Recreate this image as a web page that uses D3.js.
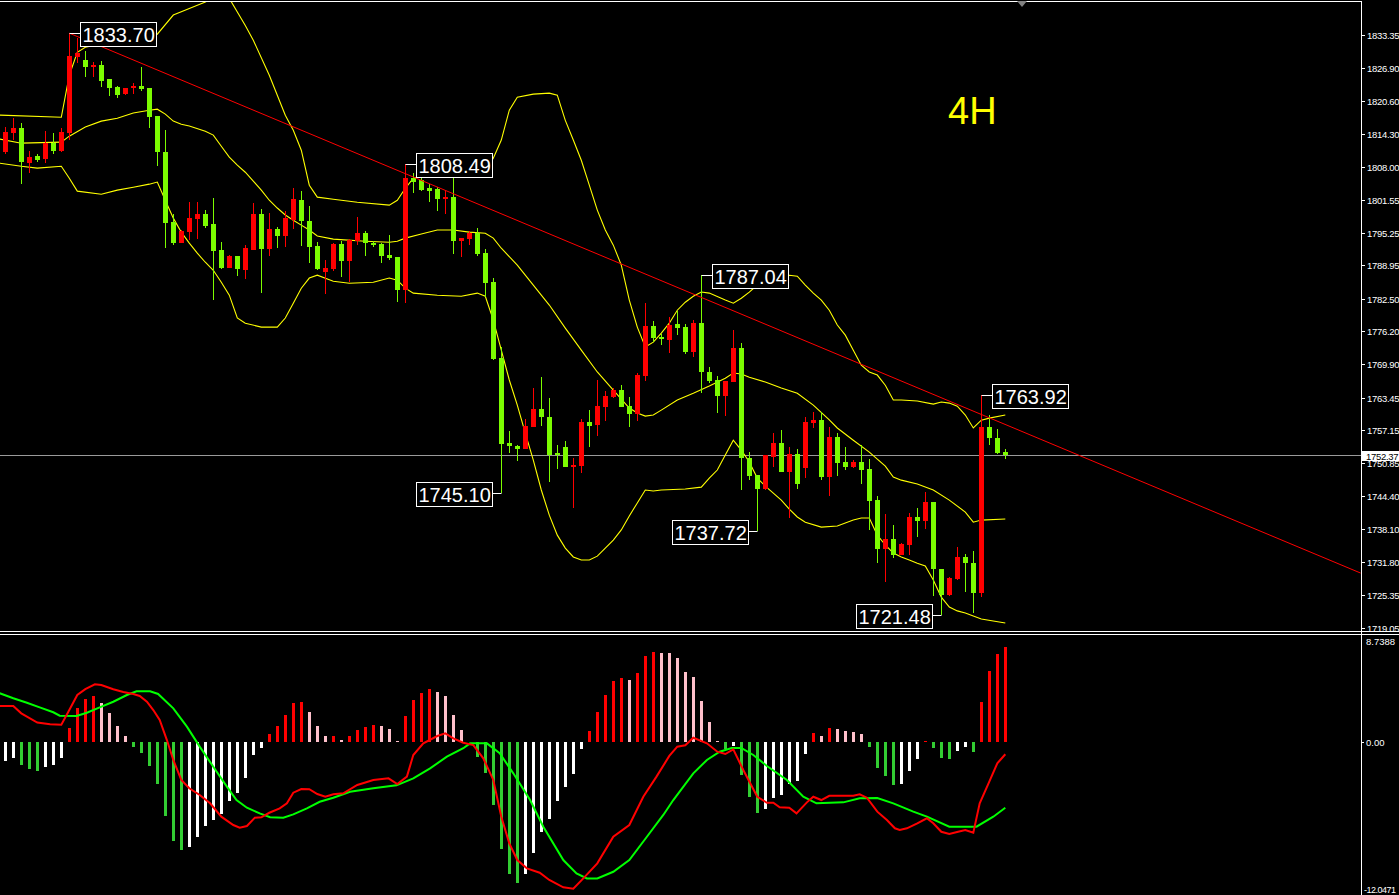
<!DOCTYPE html>
<html>
<head>
<meta charset="utf-8">
<script src="https://cdn.jsdelivr.net/npm/d3@7/dist/d3.min.js"></script>
<style>
  html, body { margin: 0; padding: 0; background: #000; overflow: hidden; }
  svg { display: block; }
</style>
</head>
<body>
<svg id="chart" width="1399" height="895"></svg>
<script>
// ---- Price data (4H candles, oldest first) ----
const openP = [1810.8,1814.5,1815.5,1808.7,1810.0,1809.4,1812.6,1811.0,1814.4,1829.1,
  1828.5,1827.2,1827.5,1824.8,1823.4,1821.9,1823.2,1823.5,1823.2,1817.7,
  1810.8,1797.3,1793.3,1795.4,1797.9,1798.8,1796.9,1791.9,1788.5,1790.7,
  1788.1,1792.0,1798.8,1792.1,1795.9,1794.6,1797.7,1801.5,1797.5,1792.7,
  1787.7,1788.2,1793.0,1789.8,1793.6,1795.2,1793.2,1793.0,1790.9,1790.6,
  1784.2,1805.8,1805.4,1803.8,1803.6,1801.7,1802.2,1793.7,1794.0,1795.1,
  1791.4,1785.8,1771.1,1754.8,1754.2,1753.5,1757.7,1761.3,1759.8,1752.7,
  1753.9,1750.1,1750.3,1758.8,1758.2,1761.7,1763.6,1764.9,1761.8,1760.3,
  1767.7,1777.2,1775.2,1774.5,1777.6,1777.1,1772.2,1777.9,1768.4,1766.8,
  1763.8,1766.5,1773.1,1751.8,1748.5,1745.8,1752.1,1754.8,1749.2,1752.6,
  1749.9,1758.5,1759.1,1748.1,1755.8,1751.1,1750.1,1751.1,1749.7,1743.7,
  1734.2,1736.3,1733.1,1735.0,1740.5,1739.7,1743.3,1730.4,1725.4,1728.5,
  1732.7,1731.5,1725.7,1757.7,1755.6,1753.0];
const highP = [1815.6,1817.3,1816.3,1811.0,1810.4,1814.8,1814.4,1815.5,1833.70,1832.7,
  1830.3,1828.2,1828.3,1824.8,1823.5,1823.2,1824.1,1827.1,1823.2,1817.7,
  1815.0,1798.8,1795.7,1801.1,1801.2,1799.7,1802.0,1793.4,1790.9,1790.7,
  1792.9,1801.0,1799.9,1799.1,1796.4,1799.5,1803.8,1803.3,1800.4,1793.5,
  1790.0,1793.2,1793.7,1794.1,1798.2,1795.6,1793.7,1793.3,1794.8,1790.6,
  1808.49,1806.7,1805.7,1804.6,1804.0,1803.3,1807.3,1794.3,1795.6,1796.1,
  1792.1,1786.6,1773.3,1757.0,1754.4,1759.3,1765.4,1767.5,1763.4,1754.3,
  1755.1,1751.9,1759.3,1761.1,1766.8,1764.7,1765.4,1765.9,1763.6,1768.2,
  1781.7,1778.3,1775.8,1779.0,1780.1,1777.6,1778.4,1787.04,1769.4,1767.6,
  1766.7,1776.5,1773.9,1753.0,1748.5,1752.4,1756.6,1757.3,1753.9,1753.5,
  1759.8,1760.6,1760.7,1757.8,1756.7,1754.0,1751.4,1754.3,1751.6,1744.5,
  1741.0,1738.9,1735.4,1741.3,1742.1,1745.3,1743.3,1730.4,1728.8,1734.7,
  1733.4,1733.9,1763.92,1760.1,1757.5,1753.5];
const lowP = [1810.5,1813.1,1804.7,1806.8,1808.9,1808.6,1810.4,1810.8,1813.1,1828.0,
  1825.2,1825.3,1823.4,1821.6,1821.2,1821.8,1821.9,1822.6,1815.5,1808.1,
  1792.2,1792.9,1793.2,1793.9,1794.1,1796.1,1782.3,1788.2,1788.4,1786.9,
  1786.4,1792.0,1783.7,1790.7,1792.3,1792.5,1795.9,1792.7,1789.4,1788.0,
  1783.4,1787.9,1786.7,1785.8,1792.9,1790.7,1792.4,1789.4,1790.0,1781.9,
  1781.7,1802.8,1803.3,1801.2,1799.4,1798.8,1791.1,1790.5,1792.9,1790.7,
  1782.9,1770.7,1745.10,1752.8,1751.2,1753.5,1757.7,1758.0,1747.1,1749.7,
  1750.1,1742.1,1749.0,1753.9,1756.1,1759.0,1763.4,1761.6,1757.7,1759.0,
  1766.6,1774.2,1773.6,1772.1,1775.5,1771.8,1771.3,1764.4,1766.2,1760.5,
  1760.0,1766.5,1745.6,1747.6,1737.72,1745.6,1750.1,1749.1,1740.2,1745.8,
  1747.9,1757.6,1747.6,1744.5,1748.3,1749.6,1749.9,1746.9,1737.9,1731.5,
  1727.9,1732.5,1733.1,1733.1,1736.5,1738.1,1725.3,1721.48,1725.3,1728.3,
  1725.9,1722.0,1725.0,1754.3,1752.6,1751.6];
const closeP = [1814.7,1815.5,1808.9,1809.9,1809.2,1812.6,1811.0,1814.7,1829.3,1829.9,
  1827.2,1827.5,1824.5,1823.2,1821.8,1823.2,1823.5,1822.9,1817.6,1810.8,
  1797.1,1793.3,1795.5,1798.0,1798.8,1796.5,1791.8,1788.4,1790.7,1788.2,
  1792.3,1798.8,1792.1,1795.9,1794.6,1798.0,1801.7,1797.5,1792.5,1788.2,
  1788.5,1793.0,1789.8,1793.8,1795.2,1793.2,1792.9,1790.7,1790.3,1784.2,
  1805.8,1805.0,1803.4,1803.3,1801.7,1802.2,1793.6,1794.3,1795.1,1791.1,
  1785.6,1770.9,1754.6,1754.2,1753.5,1758.0,1761.3,1759.8,1752.4,1752.4,
  1750.1,1750.5,1758.8,1758.0,1761.8,1763.8,1764.9,1761.7,1760.3,1767.8,
  1777.2,1775.0,1774.7,1777.4,1776.9,1772.2,1777.9,1768.4,1766.6,1763.8,
  1766.7,1773.1,1751.8,1748.3,1745.8,1752.3,1754.8,1749.2,1752.6,1746.9,
  1758.8,1759.1,1748.1,1755.8,1750.9,1750.1,1751.1,1749.5,1743.6,1734.2,
  1736.3,1733.1,1735.2,1740.5,1739.7,1743.4,1730.4,1725.4,1728.6,1732.7,
  1731.5,1725.7,1757.7,1755.6,1752.8,1752.37];

// ---- Bollinger bands, [candle index, price] vertices ----
const bbUpper = [[-0.7,1817.9],[7,1817.5],[8,1825.6],[9,1830.0],[10,1831.0],[12,1831.6],[15,1832.35],[18,1832.9],
  [19,1833.5],[21,1837.2],[25,1839.7],[27,1841.6],[28,1840.4],[30,1835.2],[31,1832.35],[33,1825.6],[35,1817.9],
  [36,1815.0],[37,1811.15],[38,1804.4],[39,1802.1],[41,1801.7],[44,1801.1],[48,1800.55],[49,1801.5],[50,1803.8],
  [51,1805.75],[52,1806.15],[60,1807.3],[61,1809.6],[62,1813.1],[63,1818.85],[64,1821.35],[66,1821.95],[68,1822.15],
  [69,1821.75],[70,1816.9],[71,1813.1],[72,1809.2],[73,1804.4],[74,1799.6],[75,1795.75],[76,1792.85],[77,1789.0],
  [78,1782.25],[79,1777.05],[80,1773.2],[81,1774.15],[82,1775.9],[83,1777.8],[84,1780.3],[85,1781.85],[86,1783.0],
  [87,1783.8],[88,1783.6],[90,1782.25],[91,1781.65],[92,1782.6],[93,1783.8],[94,1785.15],[95,1786.1],[96,1786.85],
  [98,1787.05],[99,1786.85],[100,1785.15],[101,1783.6],[102,1782.25],[103,1780.3],[104,1777.45],[105,1775.5],
  [106,1772.6],[107,1769.7],[108,1768.4],[109,1767.8],[110,1765.85],[111,1763.0],[112,1763.0],[114,1762.8],
  [116,1762.2],[117,1762.6],[118,1762.4],[119,1761.8],[120,1760.1],[121,1757.6],[122,1759.1],[123,1759.5],[125,1760.1]];
const bbMiddle = [[-0.7,1813.3],[2,1812.5],[7,1812.7],[8,1813.85],[10,1815.6],[12,1816.75],[14,1817.3],[16,1818.3],
  [18,1818.85],[19,1819.05],[20,1818.1],[21,1816.75],[22,1816.15],[23,1815.8],[25,1814.8],[26,1814.05],[27,1811.9],
  [28,1809.8],[29,1808.25],[30,1806.9],[31,1805.2],[32,1803.45],[33,1801.5],[34,1800.0],[35,1798.65],[36,1797.65],
  [37,1796.7],[38,1795.75],[39,1794.6],[41,1794.0],[45,1793.6],[48,1793.4],[49,1793.6],[50,1794.2],[52,1795.0],
  [54,1795.75],[56,1795.75],[58,1795.35],[60,1795.15],[61,1794.2],[62,1792.25],[64,1789.0],[66,1785.15],[68,1781.3],
  [70,1776.85],[72,1772.6],[74,1768.4],[76,1764.9],[78,1761.45],[79,1760.5],[80,1759.9],[81,1760.1],[82,1761.05],
  [84,1763.0],[86,1764.3],[88,1765.7],[90,1767.2],[91,1768.2],[92,1768.0],[93,1767.4],[95,1766.45],[97,1765.3],
  [99,1764.3],[101,1762.0],[103,1759.15],[104,1757.6],[106,1755.25],[108,1752.95],[110,1750.25],[111,1748.15],
  [112,1747.55],[114,1746.8],[116,1745.65],[118,1743.7],[120,1741.4],[121,1739.45],[122,1739.85],[125,1740.05]];
const bbLower = [[-0.7,1808.65],[2,1808.05],[4,1807.7],[7,1808.05],[8,1805.75],[9,1803.25],[12,1802.65],[14,1803.45],
  [16,1804.0],[18,1804.6],[19,1805.0],[20,1801.5],[21,1798.05],[22,1795.35],[23,1793.25],[24,1791.3],[25,1789.55],
  [26,1788.0],[27,1785.7],[28,1783.2],[29,1778.8],[30,1777.8],[32,1777.05],[34,1777.05],[35,1778.8],[36,1781.65],
  [37,1784.55],[38,1786.5],[39,1787.05],[41,1785.9],[43,1785.5],[46,1785.7],[48,1786.5],[49,1786.1],[50,1784.55],
  [51,1783.6],[54,1783.2],[57,1783.0],[59,1783.6],[60,1783.0],[61,1778.4],[62,1772.6],[63,1766.85],[64,1762.0],
  [65,1756.6],[66,1751.4],[67,1745.65],[68,1740.8],[69,1736.95],[70,1734.45],[71,1732.75],[72,1732.15],[73,1732.15],
  [74,1732.9],[75,1734.45],[76,1736.0],[77,1737.95],[78,1740.65],[79,1743.15],[80,1745.65],[81,1745.45],[82,1745.65],
  [85,1745.85],[87,1746.2],[88,1747.95],[89,1749.5],[90,1752.4],[91,1755.25],[92,1753.35],[93,1751.05],[94,1747.95],
  [95,1746.4],[96,1745.05],[97,1743.7],[98,1741.95],[99,1740.45],[100,1739.45],[102,1738.5],[104,1738.7],[106,1739.85],
  [107,1740.25],[108,1740.25],[109,1736.95],[110,1735.05],[111,1733.5],[112,1732.75],[113,1732.15],[114,1731.55],
  [115,1731.0],[116,1728.3],[117,1725.0],[118,1723.1],[119,1722.35],[120,1721.95],[122,1720.8],[125,1720.0]];

// Descending trendline from the 1833.70 top, extended to the right edge
const trendLine = [[8,1833.70],[169.4,1729.65]];
const lastPrice = 1752.37;
const highMarks = [[8,1833.70],[50,1808.49],[87,1787.04],[122,1763.92]];
const lowMarks = [[62,1745.10],[94,1737.72],[117,1721.48]];
const timeframe = "4H";
const priceTicks = ["1833.35","1826.90","1820.60","1814.30","1808.00","1801.55","1795.25","1788.95","1782.50",
  "1776.20","1769.90","1763.45","1757.15","1750.85","1744.40","1738.10","1731.80","1725.35","1719.05"];

// ---- MACD ----
const macdHist = [-1.55,-1.28,-1.88,-2.21,-2.37,-2.02,-1.88,-1.28,1.14,2.78,
  3.51,3.76,3.19,2.37,1.31,0.49,-0.38,-0.87,-1.94,-3.41,
  -6.02,-8.06,-8.80,-8.55,-7.74,-6.84,-6.35,-5.86,-4.80,-4.14,
  -2.92,-1.04,-0.47,0.65,1.31,2.21,3.19,3.27,2.45,1.31,
  0.49,0.53,0.16,0.49,0.98,1.23,1.39,1.31,1.06,0.08,
  2.12,3.43,4.00,4.33,4.09,3.76,2.21,0.98,0.0,-1.20,
  -2.51,-5.15,-8.74,-10.78,-11.50,-10.78,-9.04,-7.33,-6.29,-4.80,
  -3.65,-2.61,-0.57,0.90,2.48,3.84,4.98,5.20,5.07,5.66,
  7.03,7.35,7.27,7.27,6.86,5.72,5.31,3.35,1.63,0.08,
  -0.57,-0.33,-2.70,-4.47,-5.78,-5.47,-4.55,-4.33,-3.43,-3.16,
  -0.98,0.74,0.49,1.14,1.06,0.90,0.82,0.65,-0.41,-2.12,
  -2.78,-3.51,-3.43,-2.37,-1.39,0.08,-0.49,-1.31,-1.39,-0.74,
  -0.41,-0.82,3.27,5.80,7.19,7.76];
const macdMain = [[-0.7,2.94],[1,2.94],[2,2.34],[4,1.59],[5.6,1.45],[7,1.41],[8,2.61],[9,3.84],[10,4.31],[11.2,4.71],
  [12,4.66],[13.5,4.31],[14.75,4.09],[16,3.92],[16.8,3.76],[17.7,3.29],[18.5,2.61],[19.3,1.80],[20.2,0.16],[21,-1.47],
  [22,-3.10],[23,-3.78],[24.3,-4.33],[25.6,-5.01],[27,-6.10],[28.5,-6.78],[29.3,-7.00],[30.2,-6.86],[31.2,-6.18],
  [32,-6.15],[33,-5.78],[34.3,-5.42],[35.2,-5.01],[36,-4.14],[37,-3.84],[38,-3.86],[39,-4.25],[40,-4.47],[41,-4.27],
  [42.25,-4.19],[44,-3.51],[46,-3.10],[47.9,-2.97],[49,-3.43],[50.2,-2.83],[51,-1.06],[52.25,-0.11],[54,0.49],
  [55,0.71],[56,0.30],[57.25,-0.06],[58.5,-0.25],[59.75,-1.33],[61,-3.10],[62,-6.10],[63,-8.28],[64,-9.64],
  [65.2,-10.32],[66.8,-10.68],[68,-11.27],[69.75,-11.87],[71,-11.99],[72.25,-11.14],[74,-9.91],[76,-7.74],[78,-6.78],
  [79.75,-4.47],[81.4,-2.83],[83,-1.14],[84,-0.38],[85,-0.27],[86,0.35],[87.7,-0.11],[89,-0.79],[90,-0.98],[91,-0.60],
  [92.25,-2.29],[94,-4.47],[95.2,-4.96],[96,-4.96],[96.8,-5.33],[98,-5.37],[98.9,-5.83],[100.2,-4.93],[101,-4.47],
  [102,-4.74],[103,-4.39],[106,-4.39],[106.8,-4.27],[107.7,-4.55],[109,-5.69],[110.2,-6.37],[111.2,-7.05],[111.8,-7.19],
  [112.7,-7.05],[114,-6.64],[115.2,-6.23],[116,-6.64],[117,-7.33],[118,-7.52],[119.1,-7.33],[120,-7.19],[121,-7.41],
  [121.8,-5.01],[123,-3.24],[124,-1.74],[125,-1.00]];
const macdSignal = [[-0.7,3.98],[1,3.57],[2.7,3.21],[4.3,2.83],[6,2.43],[6.8,2.15],[8.9,2.12],[10.2,2.39],[11.8,2.83],
  [13.5,3.29],[15.2,3.84],[16.4,4.14],[18.1,4.14],[19.1,3.92],[21,2.75],[22.7,1.25],[24.3,-0.38],[26,-2.02],[27.7,-3.65],
  [28.9,-4.74],[30.2,-5.37],[31.8,-5.83],[33.1,-6.15],[34.75,-6.18],[36,-5.91],[37.7,-5.42],[39.3,-4.88],[41,-4.55],
  [43.1,-4.06],[46,-3.78],[48.9,-3.54],[51,-2.97],[53.1,-2.15],[55.2,-1.20],[57.25,-0.51],[58.1,-0.11],[60.2,-0.11],
  [61.8,-0.92],[63.5,-2.56],[65.6,-4.74],[67.25,-6.92],[69.75,-9.64],[71.4,-10.73],[72.7,-11.14],[74,-11.14],
  [76,-10.60],[78,-9.64],[80.2,-7.74],[82.25,-5.96],[83.5,-4.74],[86,-2.56],[87.7,-1.47],[89.3,-0.79],[90.8,-0.49],
  [92,-0.49],[93.5,-1.06],[95.2,-1.96],[97.7,-3.10],[99.75,-4.47],[101.4,-5.01],[104.75,-4.93],[106.8,-4.60],
  [109,-4.58],[111,-5.01],[113.5,-5.69],[115.2,-6.10],[118,-6.92],[121.4,-6.92],[123.5,-6.10],[125,-5.37]];
const macdMax = 8.7388, macdMin = -12.0471;
const macdTicks = ["8.7388","0.00","-12.0471"];

// ---- Layout ----
const W = 1399, H = 895;
const axisX = 1361;
const priceBottom = 631;
const macdTop = 635, macdBottom = 895;
const upColor = "#ff0000", downColor = "#7cfc00";

const svg = d3.select("#chart");
svg.append("rect").attr("width", W).attr("height", H).attr("fill", "#000");

const x = d3.scaleLinear().domain([0, 125]).range([5.3, 1005.3]);
const y = d3.scaleLinear().domain([1719.05, 1833.35]).range([628, 35]);
const ym = d3.scaleLinear().domain([macdMin, macdMax]).range([889.5, 635]);
const px = i => Math.round(x(i));

const defs = svg.append("defs");
defs.append("clipPath").attr("id", "clipPrice").append("rect")
  .attr("x", 0).attr("y", 2).attr("width", axisX).attr("height", priceBottom - 2);
defs.append("clipPath").attr("id", "clipMacd").append("rect")
  .attr("x", 0).attr("y", macdTop).attr("width", axisX).attr("height", macdBottom - macdTop);

const pricePanel = svg.append("g").attr("clip-path", "url(#clipPrice)");
const macdPanel = svg.append("g").attr("clip-path", "url(#clipMacd)");

// Last price line
pricePanel.append("line")
  .attr("x1", 0).attr("x2", axisX)
  .attr("y1", Math.round(y(lastPrice)) + 0.5).attr("y2", Math.round(y(lastPrice)) + 0.5)
  .attr("stroke", "#9a9a9a").attr("stroke-width", 1);

// Bollinger bands
const bandLine = d3.line().x(d => x(d[0])).y(d => y(d[1]));
[bbUpper, bbMiddle, bbLower].forEach(b => {
  pricePanel.append("path").attr("d", bandLine(b))
    .attr("fill", "none").attr("stroke", "#ffff00").attr("stroke-width", 1.1);
});

// Candles
const candles = d3.range(openP.length).map(i => ({
  i, o: openP[i], h: highP[i], l: lowP[i], c: closeP[i]
}));
const cg = pricePanel.append("g").attr("shape-rendering", "crispEdges");
cg.selectAll("line.wick").data(candles).join("line")
  .attr("class", "wick")
  .attr("x1", d => px(d.i) + 0.5).attr("x2", d => px(d.i) + 0.5)
  .attr("y1", d => y(d.h)).attr("y2", d => y(d.l))
  .attr("stroke", d => d.c >= d.o ? upColor : downColor).attr("stroke-width", 1);
cg.selectAll("rect.body").data(candles).join("rect")
  .attr("class", "body")
  .attr("x", d => px(d.i) - 2).attr("width", 5)
  .attr("y", d => y(Math.max(d.o, d.c)))
  .attr("height", d => Math.max(1.5, Math.abs(y(d.o) - y(d.c))))
  .attr("fill", d => d.c >= d.o ? upColor : downColor);

// Trendline
pricePanel.append("path").attr("d", bandLine(trendLine))
  .attr("fill", "none").attr("stroke", "#ff0000").attr("stroke-width", 1);

// Price callouts at swing highs and lows
function callout(i, v, side) {
  const cx = px(i) + 0.5, cy = Math.round(y(v)) + 0.5;
  const g = pricePanel.append("g");
  const t = g.append("text").text(v.toFixed(2))
    .attr("font-family", "'Liberation Sans', Arial, sans-serif")
    .attr("font-size", 20).attr("fill", "#fff");
  const tw = t.node().getComputedTextLength();
  const bw = Math.round(tw + 4), bh = 24;
  const bx = side === "high" ? Math.round(cx + 10.5) : Math.round(cx - 9.5 - bw);
  const by = Math.round(cy - 12);
  g.insert("line", "text")
    .attr("x1", cx).attr("x2", side === "high" ? bx : bx + bw)
    .attr("y1", cy).attr("y2", cy).attr("stroke", "#fff").attr("stroke-width", 1);
  g.insert("rect", "text")
    .attr("x", bx + 0.5).attr("y", by + 0.5).attr("width", bw).attr("height", bh)
    .attr("fill", "#000").attr("stroke", "#fff").attr("stroke-width", 1);
  t.attr("x", bx + 2.5).attr("y", by + 19.5);
}
highMarks.forEach(d => callout(d[0], d[1], "high"));
lowMarks.forEach(d => callout(d[0], d[1], "low"));

// Timeframe caption
svg.append("text").text(timeframe)
  .attr("x", 948).attr("y", 124)
  .attr("font-family", "'Liberation Sans', Arial, sans-serif")
  .attr("font-size", 38).attr("fill", "#ffff00");

// MACD histogram: colour by sign and direction of change
const hist = macdHist.map((v, i) => {
  const prev = i > 0 ? macdHist[i - 1] : v;
  let col;
  if (v >= 0) col = (i > 0 && v > prev) ? "#ff0000" : "#ffc0cb";
  else col = (i > 0 && v < prev) ? "#32cd32" : "#ffffff";
  if (i === 0) col = "#ffffff";
  return { i, v, col };
});
macdPanel.append("g").attr("shape-rendering", "crispEdges")
  .selectAll("rect").data(hist).join("rect")
  .attr("x", d => px(d.i) - 1).attr("width", 3)
  .attr("y", d => Math.min(ym(0), ym(d.v)))
  .attr("height", d => Math.abs(ym(d.v) - ym(0)))
  .attr("fill", d => d.col);

const macdLine = d3.line().x(d => x(d[0])).y(d => ym(d[1]));
macdPanel.append("path").attr("d", macdLine(macdSignal))
  .attr("fill", "none").attr("stroke", "#00ff00").attr("stroke-width", 2);
macdPanel.append("path").attr("d", macdLine(macdMain))
  .attr("fill", "none").attr("stroke", "#ff0000").attr("stroke-width", 2);

// Frame: top edge, right axis, panel separator
svg.append("line").attr("x1", 0).attr("x2", axisX + 0.5).attr("y1", 1.5).attr("y2", 1.5)
  .attr("stroke", "#fff").attr("stroke-width", 1);
svg.append("line").attr("x1", axisX + 0.5).attr("x2", axisX + 0.5).attr("y1", 1).attr("y2", H)
  .attr("stroke", "#fff").attr("stroke-width", 1);
[631.5, 634.5].forEach(yy => svg.append("line")
  .attr("x1", 0).attr("x2", W).attr("y1", yy).attr("y2", yy)
  .attr("stroke", "#fff").attr("stroke-width", 1));

// Chart-shift marker at the top
svg.append("path")
  .attr("d", d3.line()([[1017, 1], [1027, 1], [1022, 7]]) + "Z")
  .attr("fill", "#808080");

// Price axis
const axisFont = "'Liberation Sans', Arial, sans-serif";
const pAxis = svg.append("g");
priceTicks.forEach(t => {
  const yy = Math.round(y(+t)) + 0.5;
  pAxis.append("line").attr("x1", axisX + 1).attr("x2", axisX + 4).attr("y1", yy).attr("y2", yy)
    .attr("stroke", "#fff");
  pAxis.append("text").text(t).attr("x", axisX + 6).attr("y", yy + 3.5)
    .attr("font-family", axisFont).attr("font-size", 9.5).attr("letter-spacing", -0.3)
    .attr("fill", "#fff");
});
// Last price tag on the axis
const lpY = Math.round(y(lastPrice));
pAxis.append("rect").attr("x", axisX + 1).attr("y", lpY - 4).attr("width", W - axisX - 1).attr("height", 10)
  .attr("fill", "#fff");
pAxis.append("text").text(lastPrice.toFixed(2)).attr("x", axisX + 5).attr("y", lpY + 5)
  .attr("font-family", axisFont).attr("font-size", 9.5).attr("letter-spacing", -0.3).attr("fill", "#000");

// MACD axis labels
const mAxis = svg.append("g");
mAxis.append("text").text(macdTicks[0]).attr("x", axisX + 5).attr("y", 645)
  .attr("font-family", axisFont).attr("font-size", 9.5).attr("fill", "#fff");
const zy = Math.round(ym(0)) + 0.5;
mAxis.append("line").attr("x1", axisX + 1).attr("x2", axisX + 3).attr("y1", zy).attr("y2", zy).attr("stroke", "#fff");
mAxis.append("text").text(macdTicks[1]).attr("x", axisX + 5).attr("y", zy + 3.5)
  .attr("font-family", axisFont).attr("font-size", 9.5).attr("fill", "#fff");
mAxis.append("text").text(macdTicks[2]).attr("x", axisX + 3).attr("y", 893)
  .attr("font-family", axisFont).attr("font-size", 9).attr("letter-spacing", -0.5).attr("fill", "#fff");
</script>
</body>
</html>
